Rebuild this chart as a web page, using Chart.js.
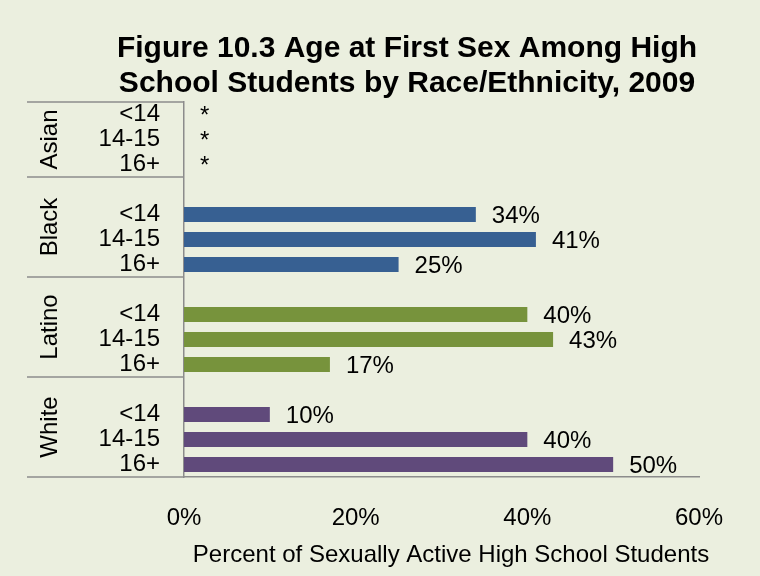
<!DOCTYPE html>
<html>
<head>
<meta charset="utf-8">
<script src="https://cdn.jsdelivr.net/npm/chart.js@4/dist/chart.umd.min.js"></script>
<style>
  html, body { margin: 0; padding: 0; background: #ebefdf; }
  #chart { display: block; }
</style>
</head>
<body>
<canvas id="chart" width="760" height="576"></canvas>
<script>
'use strict';

// ── Data ───────────────────────────────────────────
const GROUPS = ['Asian', 'Black', 'Latino', 'White'];
const AGES = ['<14', '14-15', '16+'];
const ASIAN = [null, null, null];   // suppressed, shown as *
const BLACK = [34, 41, 25];
const LATINO = [40, 43, 17];
const WHITE = [10, 40, 50];
const X_TICKS = [0, 20, 40, 60];

const TITLE = ['Figure 10.3 Age at First Sex Among High', 'School Students by Race/Ethnicity, 2009'];
const X_TITLE = 'Percent of Sexually Active High School Students';

const COLORS = ['#376092', '#376092', '#77933C', '#604A7B'];
const LINE = '#8c8c8c';
const FONT = "'Liberation Sans', Arial, sans-serif";

// rows: a blank row sits between groups
const labels = [], values = [], barColors = [], groupOf = [];
[ASIAN, BLACK, LATINO, WHITE].forEach((vals, g) => {
    if (g > 0) { labels.push(''); values.push(null); barColors.push('transparent'); groupOf.push(-1); }
    AGES.forEach((a, i) => {
        labels.push(a); values.push(vals[i]); barColors.push(COLORS[g]); groupOf.push(g);
    });
});

Chart.defaults.font.family = FONT;
Chart.defaults.color = '#000';

/* ── Overlay: title, group labels, separators, values ── */
const overlay = {
    id: 'overlay',
    afterDraw(chart) {
        const { ctx, chartArea: ca } = chart;
        const xs = chart.scales.x, ys = chart.scales.y;
        const half = (ys.getPixelForValue(1) - ys.getPixelForValue(0)) / 2;
        ctx.save();

        // title
        ctx.fillStyle = '#000';
        ctx.font = `bold 30px ${FONT}`;
        ctx.textAlign = 'center';
        ctx.textBaseline = 'alphabetic';
        ctx.fillText(TITLE[0], 407, 57);
        ctx.fillText(TITLE[1], 407, 92);

        // group separators + rotated group names
        const bounds = [ca.top];
        GROUPS.forEach((_, g) => {
            const last = groupOf.lastIndexOf(g);
            bounds.push(g === GROUPS.length - 1 ? ca.bottom : ys.getPixelForValue(last) + half);
        });
        ctx.strokeStyle = LINE;
        ctx.lineWidth = 1.5;
        bounds.forEach(y => {
            ctx.beginPath();
            ctx.moveTo(27, y);
            ctx.lineTo(ca.left, y);
            ctx.stroke();
        });
        ctx.font = `24px ${FONT}`;
        ctx.textBaseline = 'middle';
        GROUPS.forEach((name, g) => {
            const cy = (bounds[g] + bounds[g + 1]) / 2;
            ctx.save();
            ctx.translate(50, cy);
            ctx.rotate(-Math.PI / 2);
            ctx.fillText(name, 0, 0);
            ctx.restore();
        });

        // value labels
        ctx.textAlign = 'left';
        values.forEach((v, i) => {
            if (groupOf[i] < 0) return;
            const x = xs.getPixelForValue(v ?? 0) + 16;
            const y = ys.getPixelForValue(i) + 2;
            ctx.fillText(v == null ? '*' : v + '%', x, y);
        });

        // axis title
        ctx.textAlign = 'center';
        ctx.textBaseline = 'alphabetic';
        ctx.font = `24px ${FONT}`;
        ctx.fillText(X_TITLE, 451, 562);
        ctx.restore();
    }
};

new Chart(document.getElementById('chart'), {
    type: 'bar',
    data: {
        labels: labels,
        datasets: [{
            data: values,
            backgroundColor: barColors,
            barPercentage: 0.6,
            categoryPercentage: 1.0,
        }]
    },
    options: {
        indexAxis: 'y',
        responsive: false,
        animation: false,
        devicePixelRatio: 1,
        layout: { padding: { top: 102, right: 61, bottom: 0, left: 0 } },
        plugins: {
            legend: { display: false },
            tooltip: { enabled: false },
            title: { display: false },
        },
        scales: {
            x: {
                min: 0, max: 60,
                afterBuildTicks: s => { s.ticks = X_TICKS.map(v => ({ value: v })); },
                afterFit: s => { s.height = 99; },
                grid: { display: false, drawTicks: false },
                border: { display: true, color: LINE, width: 1.5 },
                ticks: { font: { size: 24 }, padding: 27, callback: v => v + '%' },
            },
            y: {
                afterFit: s => { s.width = 184; },
                grid: { display: false, drawTicks: false },
                border: { display: true, color: LINE, width: 1.5 },
                ticks: { font: { size: 24 }, padding: 24, autoSkip: false },
            }
        }
    },
    plugins: [overlay]
});
</script>
</body>
</html>
